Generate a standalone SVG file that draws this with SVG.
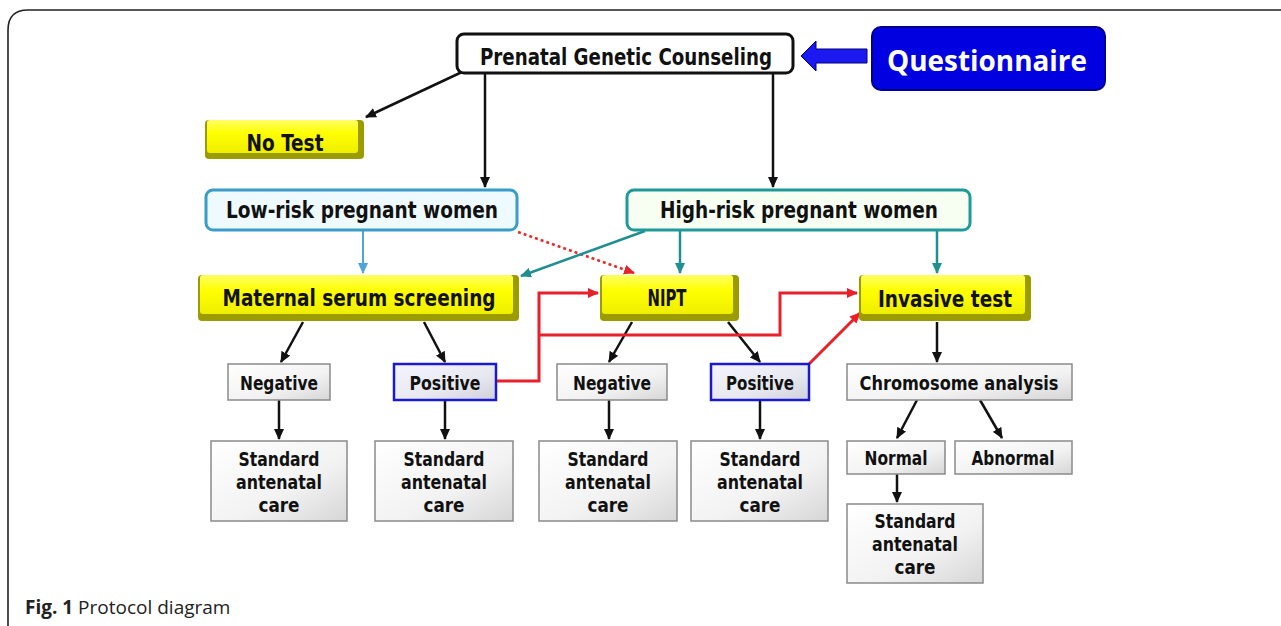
<svg xmlns="http://www.w3.org/2000/svg" width="1281" height="626" viewBox="0 0 1281 626">
<defs>
  <linearGradient id="gYel" x1="0" y1="0" x2="0" y2="1">
    <stop offset="0" stop-color="#ffff66"/>
    <stop offset="0.4" stop-color="#ffff00"/>
    <stop offset="1" stop-color="#eeee00"/>
  </linearGradient>
  <linearGradient id="gGray" x1="0" y1="0" x2="1" y2="1">
    <stop offset="0" stop-color="#ffffff"/>
    <stop offset="0.6" stop-color="#f2f2f2"/>
    <stop offset="1" stop-color="#d6d6d6"/>
  </linearGradient>
  <linearGradient id="gPos" x1="0" y1="0" x2="1" y2="1">
    <stop offset="0" stop-color="#f4f4ff"/>
    <stop offset="0.6" stop-color="#e8e8f0"/>
    <stop offset="1" stop-color="#d0d0dc"/>
  </linearGradient>
  <marker id="aBlack" markerUnits="userSpaceOnUse" markerWidth="12" markerHeight="10" refX="10" refY="5" orient="auto">
    <path d="M0,0 L11,5 L0,10 z" fill="#111"/>
  </marker>
  <marker id="aBlue" markerUnits="userSpaceOnUse" markerWidth="12" markerHeight="10" refX="10" refY="5" orient="auto">
    <path d="M0,0 L11,5 L0,10 z" fill="#4fa6d6"/>
  </marker>
  <marker id="aTeal" markerUnits="userSpaceOnUse" markerWidth="12" markerHeight="10" refX="10" refY="5" orient="auto">
    <path d="M0,0 L11,5 L0,10 z" fill="#1f8f8f"/>
  </marker>
  <marker id="aRed" markerUnits="userSpaceOnUse" markerWidth="12" markerHeight="10" refX="10" refY="5" orient="auto">
    <path d="M0,0 L11,5 L0,10 z" fill="#e8202a"/>
  </marker>
</defs>
<style>
  .lbl { font-family: "DejaVu Sans Condensed", "DejaVu Sans", sans-serif; font-weight: bold; fill: #111; text-anchor: middle; }
  .big { font-size: 23px; }
  .mid { font-size: 20px; }
  .yel-o { fill: #9c9c00; }
  .yel-i { fill: url(#gYel); }
  .gray { fill: url(#gGray); stroke: #8a8a8a; stroke-width: 1.5; }
  .pos { fill: url(#gPos); stroke: #1a1acc; stroke-width: 2.5; }
  .c-black { fill: none; stroke: #111; stroke-width: 2.5; marker-end: url(#aBlack); }
  .c-blue { fill: none; stroke: #4fa6d6; stroke-width: 2; marker-end: url(#aBlue); }
  .c-teal { fill: none; stroke: #1f8f8f; stroke-width: 2.5; marker-end: url(#aTeal); }
  .c-red { fill: none; stroke: #e8202a; stroke-width: 3; marker-end: url(#aRed); }
  .c-dot { fill: none; stroke: #e03030; stroke-width: 2.5; stroke-dasharray: 3 3; marker-end: url(#aRed); }
</style>
<rect width="1281" height="626" fill="#ffffff"/>
<path d="M8,626 V30 Q8,10 28,10 H1281" fill="none" stroke="#222" stroke-width="1.6"/>

<g id="connectors">
  <line class="c-black" x1="462" y1="72" x2="366" y2="117"/>
  <line class="c-black" x1="485" y1="73" x2="485" y2="187"/>
  <line class="c-black" x1="773" y1="73" x2="773" y2="187"/>
  <polygon points="801,56 816,41 816,49 867,49 867,63 816,63 816,71" fill="#1a1af0" stroke="#000080" stroke-width="1"/>
  <line class="c-blue" x1="363" y1="231" x2="363" y2="273"/>
  <line class="c-dot" x1="518" y1="232" x2="634" y2="273"/>
  <line class="c-teal" x1="645" y1="231" x2="521" y2="276"/>
  <line class="c-teal" x1="680" y1="231" x2="680" y2="273"/>
  <line class="c-teal" x1="937" y1="231" x2="937" y2="273"/>
  <line class="c-black" x1="303" y1="322" x2="281" y2="362"/>
  <line class="c-black" x1="424" y1="322" x2="445" y2="362"/>
  <line class="c-black" x1="632" y1="322" x2="609" y2="362"/>
  <line class="c-black" x1="728" y1="322" x2="760" y2="362"/>
  <line class="c-black" x1="937" y1="322" x2="937" y2="362"/>
  <path class="c-red" d="M496,381 H539 V293 H598"/>
  <path class="c-red" d="M539,335 H780 V293 H857"/>
  <line class="c-red" x1="809" y1="364" x2="860" y2="313"/>
  <line class="c-black" x1="279" y1="400" x2="279" y2="439"/>
  <line class="c-black" x1="445" y1="400" x2="445" y2="439"/>
  <line class="c-black" x1="609" y1="400" x2="609" y2="439"/>
  <line class="c-black" x1="760" y1="400" x2="760" y2="439"/>
  <line class="c-black" x1="917" y1="400" x2="897" y2="438"/>
  <line class="c-black" x1="980" y1="400" x2="1002" y2="438"/>
  <line class="c-black" x1="897" y1="474" x2="897" y2="502"/>
</g>

<g id="prenatal">
  <rect x="457" y="34" width="336" height="39" rx="7" fill="#fff" stroke="#111" stroke-width="3"/>
  <text class="lbl big" x="626" y="65" textLength="292" lengthAdjust="spacingAndGlyphs">Prenatal Genetic Counseling</text>
</g>
<g id="questionnaire">
  <rect x="872" y="27" width="233" height="63" rx="9" fill="#0000e0" stroke="#00008a" stroke-width="2"/>
  <text x="987" y="71" font-family="'Open Sans', 'DejaVu Sans', sans-serif" font-size="29" font-weight="bold" fill="#fff" text-anchor="middle" textLength="200" lengthAdjust="spacingAndGlyphs">Questionnaire</text>
</g>
<g id="notest">
  <rect class="yel-o" x="205" y="120" width="159" height="39" rx="4"/>
  <rect class="yel-i" x="207" y="120" width="151" height="33" rx="3"/>
  <text class="lbl big" x="285" y="151" textLength="77" lengthAdjust="spacingAndGlyphs">No Test</text>
</g>
<g id="lowrisk">
  <rect x="206" y="190" width="311" height="40" rx="7" fill="#effaff" stroke="#3a9cc8" stroke-width="3"/>
  <text class="lbl big" x="362" y="218" textLength="272" lengthAdjust="spacingAndGlyphs">Low-risk pregnant women</text>
</g>
<g id="highrisk">
  <rect x="627" y="190" width="343" height="40" rx="7" fill="#f6fff2" stroke="#1f9a9a" stroke-width="3"/>
  <text class="lbl big" x="799" y="218" textLength="278" lengthAdjust="spacingAndGlyphs">High-risk pregnant women</text>
</g>
<g id="maternal">
  <rect class="yel-o" x="198" y="275" width="321" height="46" rx="4"/>
  <rect class="yel-i" x="200" y="275" width="313" height="39" rx="3"/>
  <text class="lbl big" x="359" y="306" textLength="273" lengthAdjust="spacingAndGlyphs">Maternal serum screening</text>
</g>
<g id="nipt">
  <rect class="yel-o" x="600" y="275" width="139" height="46" rx="4"/>
  <rect class="yel-i" x="602" y="275" width="131" height="39" rx="3"/>
  <text class="lbl big" x="667" y="306" textLength="39" lengthAdjust="spacingAndGlyphs">NIPT</text>
</g>
<g id="invasive">
  <rect class="yel-o" x="859" y="275" width="172" height="46" rx="4"/>
  <rect class="yel-i" x="861" y="275" width="164" height="39" rx="3"/>
  <text class="lbl big" x="945" y="307" textLength="134" lengthAdjust="spacingAndGlyphs">Invasive test</text>
</g>
<g id="neg1">
  <rect class="gray" x="228" y="364" width="102" height="36"/>
  <text class="lbl mid" x="279" y="390" textLength="78" lengthAdjust="spacingAndGlyphs">Negative</text>
</g>
<g id="pos1">
  <rect class="pos" x="394" y="364" width="102" height="36"/>
  <text class="lbl mid" x="445" y="390" textLength="71" lengthAdjust="spacingAndGlyphs">Positive</text>
</g>
<g id="neg2">
  <rect class="gray" x="557" y="364" width="110" height="36"/>
  <text class="lbl mid" x="612" y="390" textLength="78" lengthAdjust="spacingAndGlyphs">Negative</text>
</g>
<g id="pos2">
  <rect class="pos" x="711" y="364" width="98" height="36"/>
  <text class="lbl mid" x="760" y="390" textLength="68" lengthAdjust="spacingAndGlyphs">Positive</text>
</g>
<g id="chromosome">
  <rect class="gray" x="847" y="364" width="225" height="36"/>
  <text class="lbl mid" x="959" y="390" textLength="199" lengthAdjust="spacingAndGlyphs">Chromosome analysis</text>
</g>
<g id="std1">
  <rect class="gray" x="211" y="441" width="136" height="80"/>
  <text class="lbl mid" x="279" y="466" textLength="81" lengthAdjust="spacingAndGlyphs">Standard</text>
  <text class="lbl mid" x="279" y="489" textLength="86" lengthAdjust="spacingAndGlyphs">antenatal</text>
  <text class="lbl mid" x="279" y="512" textLength="41" lengthAdjust="spacingAndGlyphs">care</text>
</g>
<g id="std2">
  <rect class="gray" x="375" y="441" width="138" height="80"/>
  <text class="lbl mid" x="444" y="466" textLength="81" lengthAdjust="spacingAndGlyphs">Standard</text>
  <text class="lbl mid" x="444" y="489" textLength="86" lengthAdjust="spacingAndGlyphs">antenatal</text>
  <text class="lbl mid" x="444" y="512" textLength="41" lengthAdjust="spacingAndGlyphs">care</text>
</g>
<g id="std3">
  <rect class="gray" x="539" y="441" width="138" height="80"/>
  <text class="lbl mid" x="608" y="466" textLength="81" lengthAdjust="spacingAndGlyphs">Standard</text>
  <text class="lbl mid" x="608" y="489" textLength="86" lengthAdjust="spacingAndGlyphs">antenatal</text>
  <text class="lbl mid" x="608" y="512" textLength="41" lengthAdjust="spacingAndGlyphs">care</text>
</g>
<g id="std4">
  <rect class="gray" x="691" y="441" width="137" height="80"/>
  <text class="lbl mid" x="760" y="466" textLength="81" lengthAdjust="spacingAndGlyphs">Standard</text>
  <text class="lbl mid" x="760" y="489" textLength="86" lengthAdjust="spacingAndGlyphs">antenatal</text>
  <text class="lbl mid" x="760" y="512" textLength="41" lengthAdjust="spacingAndGlyphs">care</text>
</g>
<g id="normal">
  <rect class="gray" x="847" y="441" width="98" height="33"/>
  <text class="lbl mid" x="896" y="465" textLength="63" lengthAdjust="spacingAndGlyphs">Normal</text>
</g>
<g id="abnormal">
  <rect class="gray" x="955" y="441" width="117" height="33"/>
  <text class="lbl mid" x="1013" y="465" textLength="83" lengthAdjust="spacingAndGlyphs">Abnormal</text>
</g>
<g id="std5">
  <rect class="gray" x="847" y="504" width="136" height="79"/>
  <text class="lbl mid" x="915" y="528" textLength="81" lengthAdjust="spacingAndGlyphs">Standard</text>
  <text class="lbl mid" x="915" y="551" textLength="86" lengthAdjust="spacingAndGlyphs">antenatal</text>
  <text class="lbl mid" x="915" y="574" textLength="41" lengthAdjust="spacingAndGlyphs">care</text>
</g>
<text x="25" y="614" font-family="'Open Sans', 'DejaVu Sans', sans-serif" font-size="19" fill="#222"><tspan font-weight="bold">Fig. 1</tspan> Protocol diagram</text>
</svg>
